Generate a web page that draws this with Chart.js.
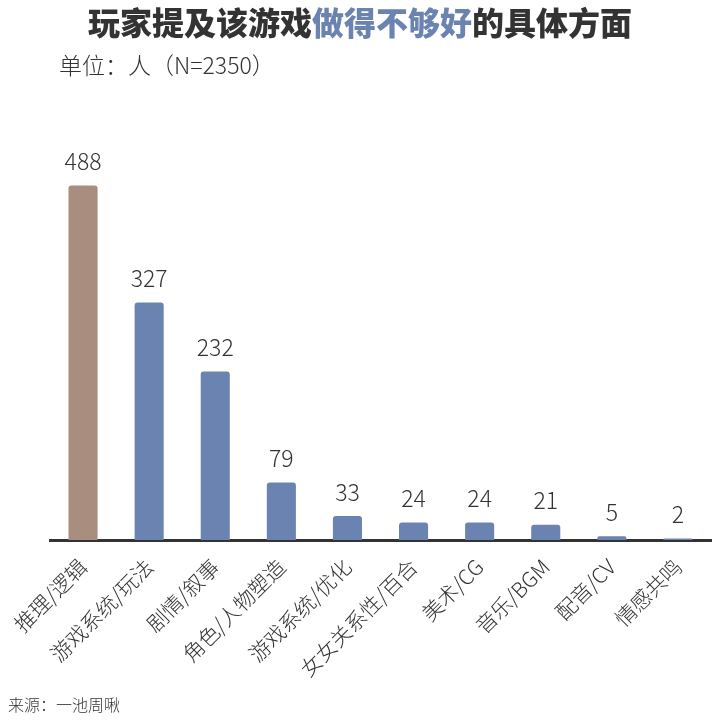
<!DOCTYPE html>
<html>
<head>
<meta charset="utf-8">
<script src="https://cdn.jsdelivr.net/npm/chart.js@4/dist/chart.umd.min.js"></script>
<style>
    html, body { margin: 0; padding: 0; background: #fff; }
    #wrap { width: 720px; height: 720px; }
</style>
</head>
<body>
<div id="wrap"><canvas id="myChart" width="720" height="720"></canvas></div>
<script>
const categories = ['推理/逻辑', '游戏系统/玩法', '剧情/叙事', '角色/人物塑造', '游戏系统/优化', '女女关系性/百合', '美术/CG', '音乐/BGM', '配音/CV', '情感共鸣'];
const counts = [488, 327, 232, 79, 33, 24, 24, 21, 5, 2];
const barColors = ['#a98e7f', '#6b83b0', '#6b83b0', '#6b83b0', '#6b83b0', '#6b83b0', '#6b83b0', '#6b83b0', '#6b83b0', '#6b83b0'];

const FONT = '"Noto Sans CJK SC", "Noto Sans", sans-serif';

// title, unit line, source and value labels
const decorations = {
    id: 'decorations',
    afterDatasetsDraw(chart) {
        const ctx = chart.ctx;
        ctx.save();

        // value labels above bars
        ctx.fillStyle = '#333';
        ctx.font = '300 23px ' + FONT;
        ctx.textAlign = 'center';
        ctx.textBaseline = 'middle';
        chart.getDatasetMeta(0).data.forEach((bar, i) => {
            ctx.fillText(counts[i], bar.x, bar.y - 24);
        });

        // title with highlighted part
        const parts = [
            { text: '玩家提及该游戏', color: '#333333' },
            { text: '做得不够好', color: '#6b83b0' },
            { text: '的具体方面', color: '#333333' }
        ];
        ctx.font = '900 32px ' + FONT;
        ctx.textAlign = 'left';
        const total = parts.reduce((w, p) => w + ctx.measureText(p.text).width, 0);
        let x = 360 - total / 2;
        parts.forEach(p => {
            ctx.fillStyle = p.color;
            ctx.fillText(p.text, x, 23);
            x += ctx.measureText(p.text).width;
        });

        ctx.fillStyle = '#333';
        ctx.font = '300 23px ' + FONT;
        ctx.fillText('单位：人（N=2350）', 59, 65);

        ctx.font = '300 16px ' + FONT;
        ctx.fillText('来源：一池周啾', 8, 705);
        ctx.restore();
    }
};

new Chart(document.getElementById('myChart').getContext('2d'), {
    type: 'bar',
    data: {
        labels: categories,
        datasets: [{
            data: counts,
            backgroundColor: barColors,
            borderRadius: { topLeft: 3, topRight: 3 },
            borderSkipped: 'bottom',
            barPercentage: 0.44,
            categoryPercentage: 1
        }]
    },
    options: {
        responsive: false,
        animation: false,
        layout: { padding: { top: 104, left: 50, right: 9, bottom: 0 } },
        plugins: {
            legend: { display: false },
            tooltip: { enabled: false }
        },
        scales: {
            x: {
                grid: { display: false },
                border: { display: true, color: '#333', width: 3 },
                ticks: {
                    color: '#333',
                    font: { family: FONT, size: 21, weight: 300 },
                    minRotation: 45,
                    maxRotation: 45,
                    padding: 6
                },
                afterFit(scale) { scale.height = 180; }
            },
            y: {
                display: false,
                min: 0,
                max: 600
            }
        }
    },
    plugins: [decorations]
});
</script>
</body>
</html>
